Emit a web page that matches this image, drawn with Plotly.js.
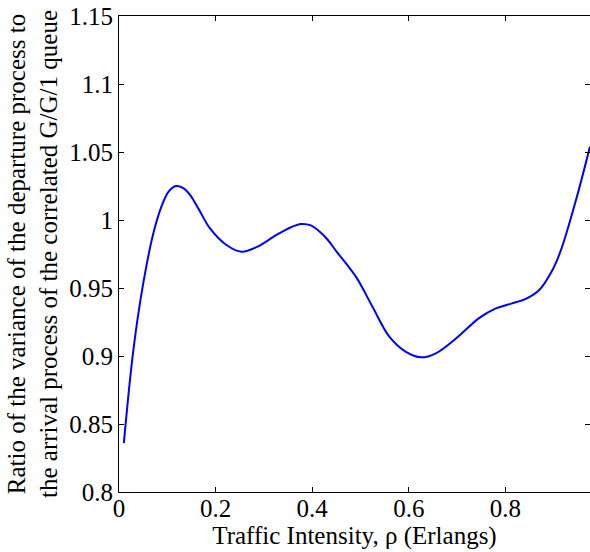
<!DOCTYPE html>
<html>
<head>
<meta charset="utf-8">
<script src="https://cdn.plot.ly/plotly-3.0.1.min.js"></script>
<style>html,body{margin:0;padding:0;background:#fff;}#chart{width:590px;height:552px;}</style>
</head>
<body>
<div id="chart"></div>
<script>
const rho = [0.01, 0.0296, 0.050, 0.071, 0.088, 0.103, 0.118, 0.133, 0.147, 0.165, 0.188, 0.2225, 0.2535, 0.2845, 0.326, 0.355, 0.377, 0.397, 0.415, 0.432, 0.450, 0.491, 0.525, 0.56, 0.594, 0.625, 0.656, 0.698, 0.746, 0.780, 0.812, 0.842, 0.870, 0.897, 0.915, 0.946, 0.975];
const ratio = [0.836, 0.904, 0.953, 0.990, 1.010, 1.021, 1.025, 1.0235, 1.0185, 1.008, 0.994, 0.9816, 0.9767, 0.980, 0.989, 0.9945, 0.997, 0.9960, 0.9915, 0.9855, 0.977, 0.958, 0.936, 0.914, 0.903, 0.899, 0.902, 0.913, 0.928, 0.935, 0.9385, 0.942, 0.9485, 0.963, 0.978, 1.0147, 1.054];
const xTickVals = [0, 0.2, 0.4, 0.6, 0.8];
const xTickText = ["0", "0.2", "0.4", "0.6", "0.8"];
const yTickVals = [0.8, 0.85, 0.9, 0.95, 1.0, 1.05, 1.1, 1.15];
const yTickText = ["0.8", "0.85", "0.9", "0.95", "1", "1.05", "1.1", "1.15"];

const font = {family: "'Liberation Serif', 'Times New Roman', serif", size: 25, color: "#000"};
Plotly.newPlot("chart", [{
  x: rho, y: ratio, type: "scatter", mode: "lines",
  line: {color: "#0000ff", width: 2, shape: "spline", smoothing: 1}
}], {
  width: 590, height: 552,
  margin: {l: 119, r: 0, t: 16, b: 60},
  paper_bgcolor: "#fff", plot_bgcolor: "#fff",
  font: font,
  showlegend: false,
  xaxis: {
    range: [0, 0.975], tickvals: xTickVals, ticktext: xTickText,
    ticks: "inside", ticklen: 5, tickcolor: "#000", showgrid: false, zeroline: false,
    showline: true, linecolor: "#000", linewidth: 1, mirror: "ticks",
    tickfont: font, ticklabelstandoff: -6,
    title: {text: "Traffic Intensity, ρ (Erlangs)", font: font, standoff: 0},
    automargin: false
  },
  yaxis: {
    range: [0.8, 1.15], tickvals: yTickVals, ticktext: yTickText,
    ticks: "inside", ticklen: 5, tickcolor: "#000", showgrid: false, zeroline: false,
    showline: true, linecolor: "#000", linewidth: 1, mirror: "ticks",
    tickfont: font,
    title: {text: "Ratio of the variance of the departure process to<br>the arrival process of the correlated G/G/1 queue", font: font, standoff: 4},
    automargin: false
  }
}, {displayModeBar: false, staticPlot: true});
</script>
</body>
</html>
